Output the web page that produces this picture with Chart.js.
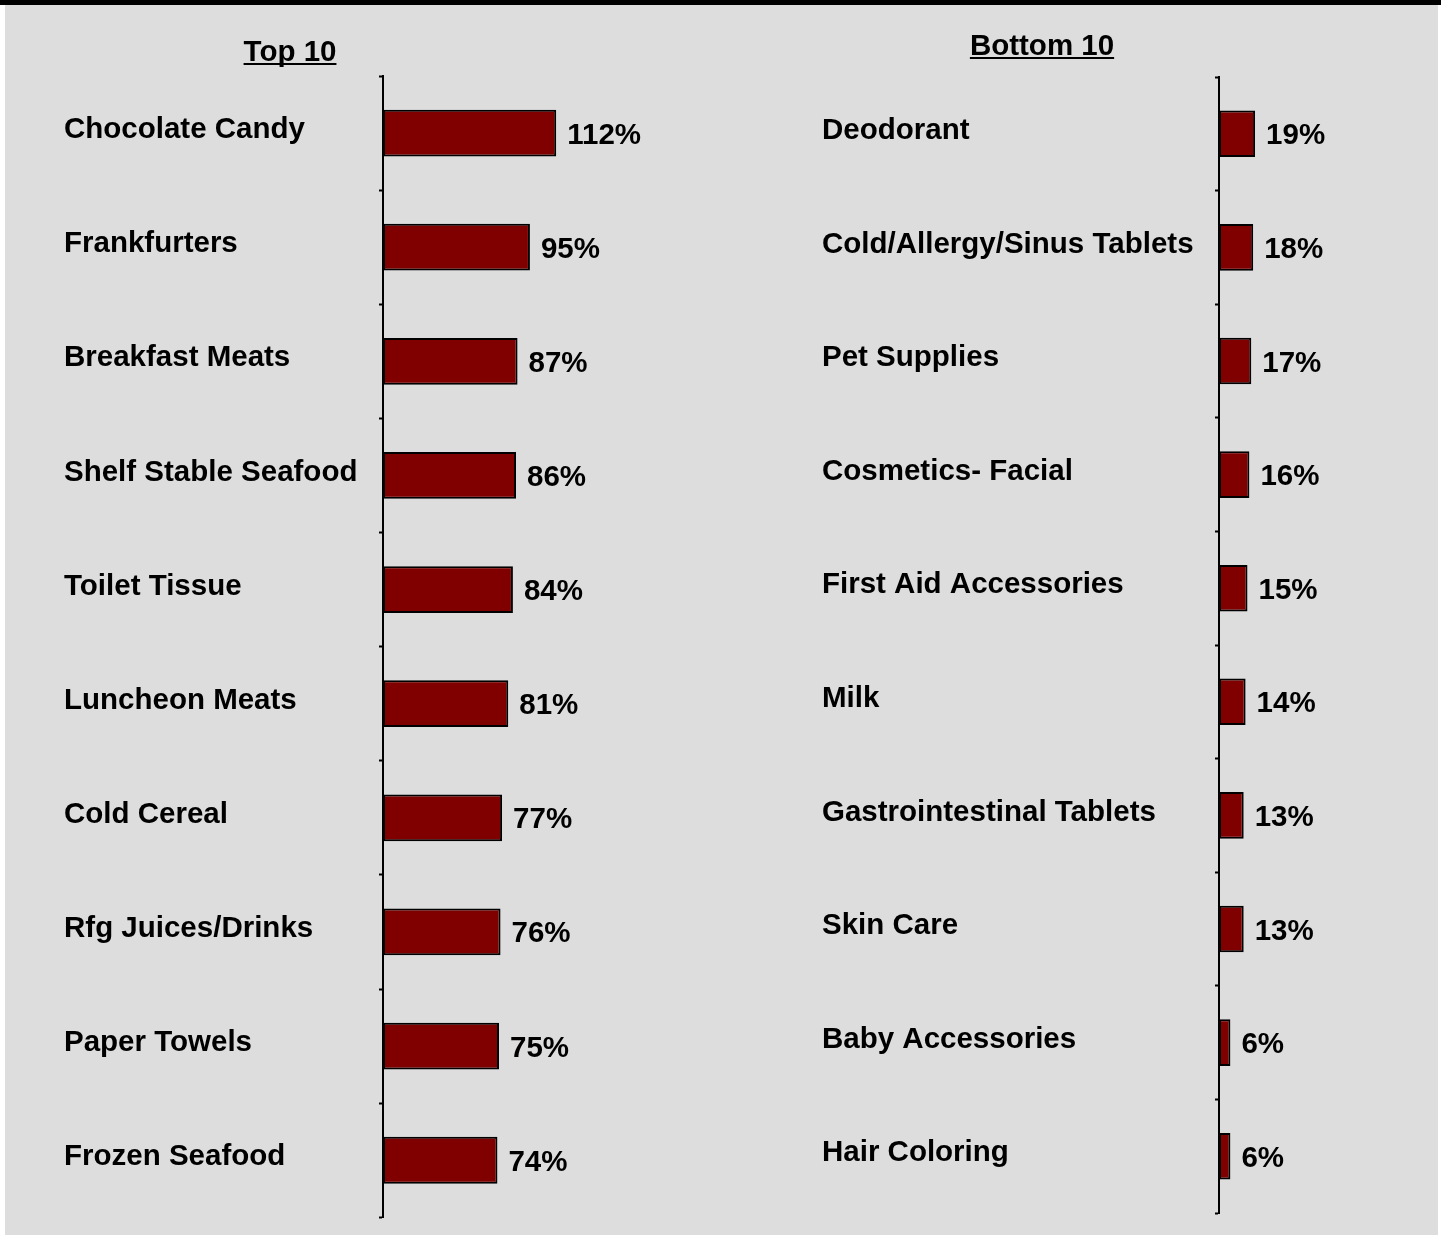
<!DOCTYPE html>
<html>
<head>
<meta charset="utf-8">
<script src="https://cdn.jsdelivr.net/npm/chart.js@4/dist/chart.umd.min.js"></script>
<style>
  body { margin: 0; background: #fff; width: 1441px; height: 1235px; position: relative; overflow: hidden; }
  #topbar { position: absolute; left: 0; top: 0; width: 1441px; height: 5px; background: #000; }
  #panel { position: absolute; left: 5px; top: 5px; width: 1433px; height: 1230px; background: #dddddd; }
  canvas { position: absolute; top: 0; }
  #left { left: 0; }
  #right { left: 715px; }
</style>
</head>
<body>
<div id="topbar"></div>
<div id="panel">
  <canvas id="left" width="715" height="1230"></canvas>
  <canvas id="right" width="718" height="1230"></canvas>
</div>
<script>
const topLabels = ['Chocolate Candy', 'Frankfurters', 'Breakfast Meats', 'Shelf Stable Seafood', 'Toilet Tissue',
    'Luncheon Meats', 'Cold Cereal', 'Rfg Juices/Drinks', 'Paper Towels', 'Frozen Seafood']
const topValues = [112, 95, 87, 86, 84, 81, 77, 76, 75, 74]

const bottomLabels = ['Deodorant', 'Cold/Allergy/Sinus Tablets', 'Pet Supplies', 'Cosmetics- Facial', 'First Aid Accessories',
    'Milk', 'Gastrointestinal Tablets', 'Skin Care', 'Baby Accessories', 'Hair Coloring']
const bottomValues = [19, 18, 17, 16, 15, 14, 13, 13, 6, 6]

const FONT = 'Liberation Sans, Arial, sans-serif'
const SIZE = 29.5

// underlined title drawn above the plot
const titlePlugin = {
    id: 'ulTitle',
    afterDraw(chart, args, opts) {
        const ctx = chart.ctx
        ctx.save()
        ctx.font = 'bold ' + SIZE + 'px ' + FONT
        ctx.fillStyle = '#000'
        ctx.textAlign = 'center'
        ctx.textBaseline = 'alphabetic'
        ctx.fillText(opts.text, opts.x, opts.y)
        const w = ctx.measureText(opts.text).width
        ctx.fillRect(opts.x - w / 2, opts.y + 2, w, 2)
        ctx.restore()
    }
}

// percentage labels at the end of each bar
const valuePlugin = {
    id: 'barValues',
    afterDatasetsDraw(chart) {
        const ctx = chart.ctx
        const meta = chart.getDatasetMeta(0)
        const data = chart.data.datasets[0].data
        ctx.save()
        ctx.font = 'bold ' + SIZE + 'px ' + FONT
        ctx.fillStyle = '#000'
        ctx.textAlign = 'left'
        ctx.textBaseline = 'alphabetic'
        meta.data.forEach((bar, i) => {
            ctx.fillText(data[i] + '%', bar.x + 11, bar.y + 10.5)
        })
        ctx.restore()
    }
}

function makeChart(id, labels, values, cfg) {
    return new Chart(document.getElementById(id), {
        type: 'bar',
        data: {
            labels: labels,
            datasets: [{
                data: values,
                backgroundColor: '#800000',
                borderColor: '#000',
                borderWidth: 2,
                borderSkipped: false,
                categoryPercentage: 1,
                barPercentage: 0.41
            }]
        },
        options: {
            indexAxis: 'y',
            responsive: false,
            animation: false,
            layout: { padding: cfg.padding },
            plugins: {
                legend: { display: false },
                tooltip: { enabled: false },
                ulTitle: cfg.title
            },
            scales: {
                x: { display: false, min: 0, max: cfg.max },
                y: {
                    offset: true,
                    grid: { offset: true, drawOnChartArea: false, tickLength: 4, tickWidth: 2, tickColor: '#000' },
                    border: { color: '#000', width: 2 },
                    ticks: {
                        crossAlign: 'far',
                        labelOffset: -3,
                        padding: 0,
                        autoSkip: false,
                        color: '#000',
                        font: { family: FONT, size: SIZE, weight: 'bold' }
                    },
                    afterFit: s => { s.width = cfg.axisWidth }
                }
            }
        },
        plugins: [titlePlugin, valuePlugin]
    })
}

makeChart('left', topLabels, topValues, {
    max: 150,
    axisWidth: 319,
    padding: { left: 59, right: 105, top: 71, bottom: 12 },
    title: { text: 'Top 10', x: 285, y: 56 }
})

makeChart('right', bottomLabels, bottomValues, {
    max: 50,
    axisWidth: 397,
    padding: { left: 102, right: 124, top: 72, bottom: 22 },
    title: { text: 'Bottom 10', x: 322, y: 50 }
})
</script>
</body>
</html>
